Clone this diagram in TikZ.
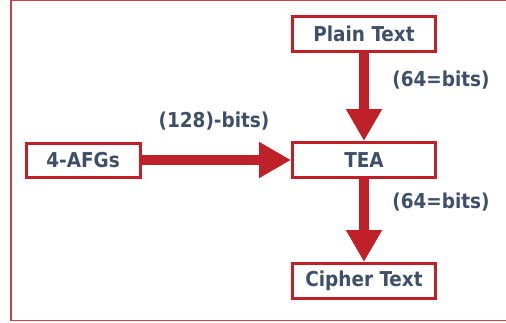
\documentclass[tikz,border=0pt]{standalone}
\usepackage{fontspec}
\setmainfont{DejaVu Sans Condensed}
\usepackage{xcolor}
\usetikzlibrary{arrows.meta}

\definecolor{boxred}{RGB}{192,32,40}
\definecolor{txtblue}{RGB}{64,79,104}

\begin{document}
\begin{tikzpicture}[x=1pt, y=-1pt,
    stage/.style={draw=boxred, line width=3pt, rectangle, minimum width=143pt, minimum height=35pt, inner sep=0pt, text=txtblue, font=\fontsize{20.5}{24}\selectfont\bfseries},
    bits/.style={text=txtblue, inner sep=0pt, font=\fontsize{20.5}{24}\selectfont\bfseries},
    bigarrow/.style={draw=boxred, line width=10pt, -{Triangle[width=34pt, length=32pt]}, boxred}]
    \clip (0,0) rectangle (506,322);
    \draw[boxred!85, line width=1.5pt] (11,0.5) rectangle (530,320.5);

    \node (plain) [stage] at (364,34) {Plain Text};
    \node (tea) [stage, below of=plain, node distance=126pt] {TEA};
    \node (cipher) [stage, below of=tea, node distance=121pt] {Cipher Text};
    \node (afgs) [stage, left of=tea, node distance=281pt, minimum width=114pt, minimum height=34pt] {4-AFGs};

    \node (keylen) [bits] at (214,121) {(128)-bits)};
    \node (inlen) [bits] at (441,80) {(64=bits)};
    \node (outlen) [bits] at (441,202) {(64=bits)};

    \draw[bigarrow] (plain) -- (tea);
    \draw[bigarrow] (afgs) -- (tea);
    \draw[bigarrow] (tea) -- (cipher);
\end{tikzpicture}
\end{document}
